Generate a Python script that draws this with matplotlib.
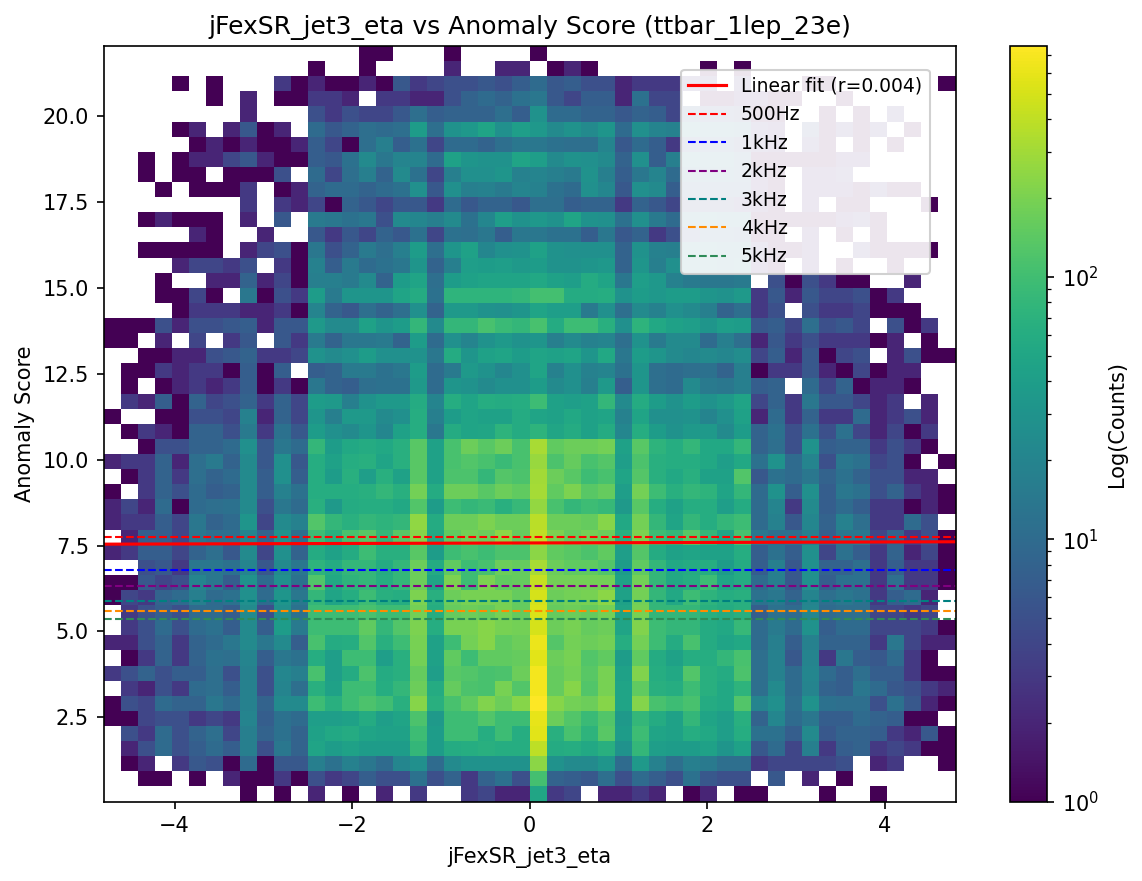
import numpy as np
import matplotlib
matplotlib.use("Agg")
import matplotlib.pyplot as plt
from matplotlib.colors import LogNorm

title = "jFexSR_jet3_eta vs Anomaly Score (ttbar_1lep_23e)"
x_label = "jFexSR_jet3_eta"
y_label = "Anomaly Score"
cbar_label = "Log(Counts)"
x_range = (-4.8, 4.8)
y_range = (0.05, 22.04)
count_max = 760
fit_ends = [7.54, 7.61]
fit_label = "Linear fit (r=0.004)"
rate_labels = ["500Hz", "1kHz", "2kHz", "3kHz", "4kHz", "5kHz"]
rate_values = [7.74, 6.80, 6.31, 5.88, 5.59, 5.35]
rate_colors = ["red", "blue", "purple", "teal", "darkorange", "seagreen"]

# rows listed from the top of the plot to the bottom
r00 = [0]*15 + [1,1,0,0,0,1,0,0,0,0,1] + [0]*24
r01 = [0,0,0,0,0,0,0,0,0,0,0,0,1,0,0,1,0,0,0,0,2,0,0,2,2,0,1,2,1,0,0,0,0,0,0,1,0,1,0,0,0,0,0,0,0,0,0,0,0,0]
r02 = [0,0,0,0,1,0,1,0,0,0,3,1,2,1,1,2,1,6,3,4,5,5,6,5,7,10,6,7,5,5,2,3,3,3,3,3,0,3,0,0,0,1,1,0,0,0,0,0,0,1]
r03 = [0,0,0,0,0,0,1,0,2,0,1,1,3,3,2,0,3,3,2,2,5,8,10,8,12,14,6,4,7,7,2,12,4,4,0,1,1,2,2,1,1,0,0,1,0,0,0,0,0,0]
r04 = [0,0,0,0,0,0,0,0,2,0,0,0,5,3,5,4,4,6,11,7,8,8,8,11,7,29,10,10,8,8,6,8,7,4,6,5,5,4,1,1,0,0,1,0,1,0,3,0,0,0]
r05 = [0,0,0,0,1,2,0,2,6,1,2,0,10,6,8,11,10,11,38,11,29,34,48,27,40,34,23,29,23,32,10,27,20,18,18,14,14,11,3,2,0,5,1,3,1,3,0,1,0,0]
r06 = [0,0,0,0,0,1,2,1,2,1,1,2,7,4,1,11,17,7,12,4,10,10,8,11,14,14,12,11,11,20,6,10,7,3,5,6,6,4,3,2,0,3,1,0,1,0,1,0,0,0]
r07 = [0,0,1,0,1,2,2,4,6,2,1,1,7,6,12,23,14,20,20,10,44,32,29,29,48,40,23,29,27,23,8,27,7,17,17,14,14,8,1,1,1,1,1,2,2,0,0,0,0,0]
r08 = [0,0,1,0,1,1,0,1,1,1,5,0,10,4,11,17,8,23,12,4,17,27,27,32,18,20,17,15,29,17,7,14,20,10,11,10,10,8,2,1,0,2,2,3,0,0,0,0,0,0]
r09 = [0,0,0,1,0,1,1,1,3,0,1,2,8,10,10,8,10,12,27,6,27,17,18,15,20,18,12,10,27,21,6,27,23,7,7,7,6,6,2,1,0,2,2,2,1,3,1,1,0,0]
r10 = [0,0,0,0,0,0,0,0,3,0,3,2,4,1,8,6,4,6,6,3,10,6,8,8,6,11,11,7,8,8,3,8,6,4,4,4,4,3,2,1,0,2,0,1,1,0,0,0,1,0]
r11 = [0,0,1,2,1,1,1,0,2,0,6,0,15,14,12,14,5,23,21,17,23,12,21,40,29,34,29,48,29,27,12,27,15,10,14,17,14,14,1,1,1,1,1,2,3,1,0,0,0,0]
r12 = [0,0,0,0,0,2,1,0,0,2,0,0,6,3,6,4,8,6,12,4,12,11,14,7,14,14,12,12,7,14,6,8,3,5,5,8,8,6,1,1,0,2,0,1,0,1,0,0,0,0]
r13 = [0,0,1,1,1,1,1,0,2,4,5,1,14,5,8,15,11,17,38,11,32,44,21,27,29,44,29,27,27,27,8,29,18,17,17,17,15,14,3,1,1,2,0,0,3,1,1,1,1,0]
r14 = [0,0,0,0,2,4,4,3,5,0,3,1,18,7,15,10,12,14,32,8,17,40,38,40,35,38,29,29,32,34,8,32,17,27,18,17,14,17,2,1,0,2,0,1,0,0,1,0,0,0]
r15 = [0,0,0,1,0,0,2,2,8,2,4,1,17,17,15,23,8,38,48,11,38,44,48,48,48,53,44,40,57,48,14,40,34,18,15,14,14,15,0,5,1,5,3,1,1,0,0,2,0,0]
r16 = [0,0,0,1,1,4,1,0,14,1,5,3,38,15,32,32,32,48,57,12,75,75,75,75,80,105,105,57,57,60,29,38,34,38,38,32,29,35,3,6,2,6,4,4,5,1,3,0,0,0]
r17 = [0,0,0,0,1,3,3,3,2,2,3,1,20,8,6,11,8,11,27,8,35,35,29,27,32,48,40,40,15,27,11,23,18,27,23,17,8,11,3,5,0,5,3,3,4,1,1,1,0,0]
r18 = [1,1,1,5,2,5,5,6,7,2,6,6,35,23,23,44,32,38,80,23,80,80,110,90,80,110,57,95,95,66,27,72,53,44,40,32,40,38,6,7,4,11,5,6,4,0,5,1,3,0]
r19 = [1,1,0,2,0,4,0,3,6,0,6,3,15,8,14,14,15,8,38,10,27,20,29,35,29,32,17,23,18,20,11,29,15,23,23,10,17,11,2,6,3,5,3,3,3,1,2,0,1,0]
r20 = [0,0,1,1,2,2,5,6,8,3,3,4,29,23,27,38,27,27,29,14,57,32,44,48,38,48,44,48,32,53,14,38,32,23,21,23,21,25,4,7,2,6,1,4,5,0,2,5,1,1]
r21 = [0,1,1,3,2,3,3,1,7,1,7,0,7,8,15,15,12,14,38,10,15,35,29,21,27,48,18,27,18,20,12,32,11,10,11,12,8,17,1,3,3,6,2,1,4,1,2,2,0,0]
r22 = [0,1,0,1,2,3,2,3,7,1,3,1,14,8,7,11,12,12,35,10,32,29,23,27,27,38,23,27,17,35,7,32,11,10,23,15,14,17,7,8,0,10,4,8,1,2,2,1,0,0]
r23 = [0,3,2,7,1,8,4,5,8,3,8,4,38,35,17,29,35,35,57,20,60,48,60,57,60,95,44,40,44,80,23,57,38,29,38,29,35,48,4,8,3,14,6,6,4,2,3,0,2,0]
r24 = [1,0,0,1,1,5,5,4,18,2,8,4,32,17,35,35,23,27,60,17,38,48,44,44,57,48,44,53,44,48,18,48,27,27,29,20,27,44,2,10,3,8,3,3,10,2,3,5,2,0]
r25 = [0,1,3,2,1,8,8,5,15,3,12,6,38,27,23,32,21,44,60,14,57,48,50,72,57,72,50,57,44,57,21,60,38,29,35,35,23,38,8,12,5,12,5,12,4,2,4,1,3,0]
r26 = [0,0,1,5,5,8,8,10,27,6,14,10,80,38,53,57,53,66,135,44,110,170,135,170,110,320,150,170,170,185,44,135,72,60,80,53,53,80,8,11,5,29,7,8,8,3,5,3,1,0]
r27 = [2,3,3,8,2,11,15,8,23,6,27,6,60,44,60,66,48,66,135,44,110,125,110,90,110,270,115,160,110,130,40,115,66,60,60,53,40,53,12,29,10,20,5,14,12,4,5,1,0,1]
r28 = [0,1,3,8,3,11,8,10,23,7,27,7,60,38,66,40,66,44,135,44,115,115,80,130,115,300,170,135,95,110,48,130,66,53,66,44,44,125,6,12,10,14,8,12,8,5,5,2,2,0]
r29 = [1,0,3,8,5,10,7,8,23,7,18,12,60,60,60,66,80,66,185,57,170,170,135,170,150,310,150,205,135,160,40,185,95,66,80,72,48,80,10,29,7,27,7,14,12,5,8,3,2,1]
r30 = [2,4,2,10,1,10,11,12,23,5,14,10,66,35,57,60,60,53,125,38,95,80,90,66,85,260,110,80,95,85,35,135,60,44,60,60,40,57,10,20,3,23,7,10,7,3,3,1,2,1]
r31 = [2,3,3,7,4,14,8,10,32,4,23,18,125,80,68,80,72,80,250,57,170,170,205,170,170,380,170,170,160,225,53,185,80,48,80,60,80,95,10,18,6,21,8,18,11,3,3,10,5,0]
r32 = [0,2,7,7,4,14,11,11,20,8,29,11,95,66,110,135,80,135,230,53,150,185,170,240,160,400,205,160,185,170,66,205,95,80,135,80,48,110,14,11,11,17,7,14,14,4,8,3,5,1]
r33 = [2,3,7,7,4,8,11,6,23,4,27,8,57,44,57,95,66,66,135,38,95,110,95,115,115,240,150,135,115,150,40,130,57,44,48,44,44,60,7,12,7,27,4,12,7,3,8,2,4,1]
r34 = [0,0,5,6,3,14,14,12,20,6,23,14,72,57,80,80,57,80,170,57,150,95,110,170,160,320,170,150,150,125,38,150,80,53,57,60,38,57,7,17,6,27,8,8,11,3,7,3,3,1]
r35 = [1,1,6,4,5,20,14,7,29,10,27,12,125,53,72,80,60,80,170,48,205,95,205,150,160,420,185,185,185,185,44,185,80,53,60,95,48,57,10,17,6,27,7,12,12,3,11,3,3,1]
r36 = [1,4,3,8,10,17,10,12,27,10,32,14,80,48,60,95,66,60,205,66,170,195,195,195,160,500,170,185,195,240,44,185,80,53,95,72,60,66,12,14,8,20,11,14,12,3,7,10,2,0]
r37 = [0,3,5,7,5,10,10,7,23,5,27,12,95,95,95,110,95,95,185,60,160,170,160,195,160,520,160,170,160,185,48,195,80,80,80,66,57,66,7,12,10,21,10,11,11,4,4,3,4,0]
r38 = [0,3,5,10,5,10,12,7,23,7,38,15,95,95,95,150,80,125,205,60,195,195,230,195,185,500,170,195,160,170,48,215,95,80,80,57,53,85,10,15,10,29,7,10,10,4,4,4,3,1]
r39 = [2,2,5,8,3,8,10,14,23,14,23,7,110,57,60,125,66,95,195,44,95,185,225,150,170,620,130,185,170,185,60,185,95,57,110,57,48,53,10,17,7,18,8,8,8,3,14,4,2,2]
r40 = [0,1,3,8,3,8,12,11,20,7,14,12,60,40,95,95,40,66,185,44,150,95,150,150,160,560,170,195,125,150,38,150,57,44,60,60,80,110,11,18,6,20,3,14,7,6,10,3,1,0]
r41 = [3,5,8,5,7,7,11,5,18,5,21,17,110,40,57,115,57,66,160,40,135,125,110,115,170,680,160,185,135,195,44,215,60,53,125,66,57,115,11,18,10,21,10,7,11,7,7,3,1,1]
r42 = [0,3,2,5,3,10,11,7,18,5,20,11,66,44,95,95,60,80,170,57,160,115,110,195,125,680,160,225,125,195,48,150,66,60,95,66,53,72,11,23,10,20,8,7,14,10,6,5,3,2]
r43 = [1,5,4,10,8,8,14,10,18,8,23,23,95,66,95,115,100,66,230,66,110,150,215,170,230,760,230,185,170,230,48,220,110,95,110,57,53,125,20,27,11,29,12,11,11,5,12,6,2,1]
r44 = [1,1,4,5,5,3,4,3,20,7,12,10,40,40,44,57,40,48,115,35,95,95,125,95,95,600,170,125,90,125,35,80,57,44,80,48,40,66,8,21,10,14,7,7,10,8,7,1,1,0]
r45 = [0,5,3,10,5,8,11,4,17,8,12,8,44,53,57,48,44,44,95,38,95,95,60,95,60,560,66,110,72,135,38,95,48,44,60,53,40,60,12,12,7,23,6,8,8,7,3,2,6,1]
r46 = [0,2,5,10,5,7,10,7,17,5,14,8,48,38,44,38,38,38,80,38,57,60,66,60,60,390,57,60,53,66,29,80,40,38,38,44,32,44,6,10,4,17,3,7,8,3,4,3,1,1]
r47 = [0,1,2,0,3,6,5,1,10,1,6,6,17,12,18,14,10,21,27,10,23,29,29,29,29,240,29,23,23,32,10,35,18,11,17,15,11,11,3,4,4,4,4,5,0,2,3,0,0,1]
r48 = [0,0,1,1,0,1,0,2,1,1,3,1,5,3,4,7,5,5,12,5,8,3,8,12,5,105,8,7,6,11,5,10,7,5,12,6,5,5,0,6,0,2,0,1,0,0,0,0,0,0]
r49 = [0,0,0,0,0,0,0,0,1,0,1,0,2,0,1,0,2,0,3,0,0,3,4,2,2,50,3,4,0,2,2,3,2,0,1,2,0,1,1,0,0,0,1,0,0,1,0,0,0,0]

rows_top_down = [r00,r01,r02,r03,r04,r05,r06,r07,r08,r09,r10,r11,r12,r13,r14,r15,r16,r17,r18,r19,
                 r20,r21,r22,r23,r24,r25,r26,r27,r28,r29,r30,r31,r32,r33,r34,r35,r36,r37,r38,r39,
                 r40,r41,r42,r43,r44,r45,r46,r47,r48,r49]
counts = np.array(rows_top_down, dtype=float)[::-1]
counts = np.ma.masked_equal(counts, 0)
x_edges = np.linspace(*x_range, counts.shape[1] + 1)
y_edges = np.linspace(*y_range, counts.shape[0] + 1)

W, H = 1142, 881
left, right, top, bottom = 103.5, 955.5, 46, 801.5
fig = plt.figure(figsize=(W / 150, H / 150), dpi=150)
ax = fig.add_axes([left / W, 1 - bottom / H, (right - left) / W, (bottom - top) / H])
cax = fig.add_axes([1010 / W, 1 - bottom / H, (1047 - 1010) / W, (bottom - top) / H])

mesh = ax.pcolormesh(x_edges, y_edges, counts, cmap="viridis",
                     norm=LogNorm(vmin=1, vmax=count_max))
ax.plot(x_range, fit_ends, color="red", lw=1.5, label=fit_label)
for lab, val, col in zip(rate_labels, rate_values, rate_colors):
    ax.axhline(val, color=col, ls="--", lw=1, label=lab)
ax.set_xlim(x_range)
ax.set_ylim(y_range)
ax.set_xlabel(x_label, fontsize=10, labelpad=5)
ax.set_ylabel(y_label, fontsize=10, labelpad=3.5)
ax.set_title(title, fontsize=12)
ax.legend(loc="upper right", fontsize=9, framealpha=0.9, borderaxespad=0,
          bbox_to_anchor=((929.5 - left) / (right - left), 1 - (69.5 - top) / (bottom - top)))
cb = fig.colorbar(mesh, cax=cax)
cb.set_label(cbar_label, fontsize=10)

fig.savefig("out.png", dpi=150)
